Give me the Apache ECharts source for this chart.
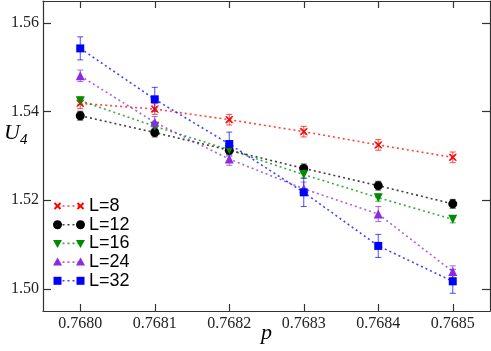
<!DOCTYPE html>
<html>
<head>
<meta charset="utf-8">
<script src="https://cdn.jsdelivr.net/npm/echarts@6/dist/echarts.min.js"></script>
<style>
  html, body { margin: 0; padding: 0; background: #fff; }
  #container { width: 491px; height: 351px; }
</style>
</head>
<body>
<div id="container"></div>
<script>
var dom = document.getElementById("container");
var myChart = echarts.init(dom, null, { renderer: "canvas" });

// data
const pValues = [0.768, 0.7681, 0.7682, 0.7683, 0.7684, 0.7685];
const xTicks = [0.768, 0.7681, 0.7682, 0.7683, 0.7684, 0.7685];
const yTicks = [1.5, 1.52, 1.54, 1.56];
const seriesNames = ["L=8", "L=12", "L=16", "L=24", "L=32"];
const u4_L8 = [1.5419, 1.5406, 1.5382, 1.5355, 1.5325, 1.5297];
const u4_L12 = [1.5391, 1.5353, 1.5313, 1.5272, 1.5233, 1.5192];
const u4_L16 = [1.5425, 1.5367, 1.5314, 1.5258, 1.5206, 1.5157];
const u4_L24 = [1.5481, 1.5376, 1.5293, 1.5226, 1.5169, 1.5039];
const u4_L32 = [1.5543, 1.5428, 1.5327, 1.5218, 1.5097, 1.5017];
const err_L8 = [0.0012, 0.0012, 0.0012, 0.0012, 0.0012, 0.0012];
const err_L12 = [0.001, 0.001, 0.001, 0.001, 0.001, 0.001];
const err_L16 = [0.0008, 0.0008, 0.0008, 0.0008, 0.0008, 0.0008];
const err_L24 = [0.0013, 0.0013, 0.0014, 0.0015, 0.0017, 0.0013];
const err_L32 = [0.0026, 0.0027, 0.0027, 0.0032, 0.0026, 0.0027];

const allValues = [u4_L8, u4_L12, u4_L16, u4_L24, u4_L32];
const allErrors = [err_L8, err_L12, err_L16, err_L24, err_L32];
const colors = ["#ff0000", "#000000", "#008b00", "#8a2be2", "#0000ff"];
const crossPath = "path://M0,0L10,10M10,0L0,10M1,0L10,9M0,1L9,10M9,0L0,9M10,1L1,10";
const symbols = [crossPath, "circle", "triangle", "triangle", "rect"];
const symbolSizes = [7, 9, 9, 9, 8];
const symbolRotates = [0, 0, 180, 0, 0];

const serifFont = "'Liberation Serif', 'DejaVu Serif', serif";
const sansFont = "'Liberation Sans', Arial, sans-serif";

const series = [];
seriesNames.forEach(function (name, i) {
  // error bars
  series.push({
    type: "custom",
    name: name + " err",
    z: 2,
    silent: true,
    data: pValues.map(function (p, k) {
      return [p, allValues[i][k] - allErrors[i][k], allValues[i][k] + allErrors[i][k]];
    }),
    renderItem: function (params, api) {
      const lo = api.coord([api.value(0), api.value(1)]);
      const hi = api.coord([api.value(0), api.value(2)]);
      const w = 3;
      const st = { stroke: colors[i], lineWidth: 1, opacity: 0.7 };
      return {
        type: "group",
        children: [
          { type: "line", shape: { x1: lo[0], y1: lo[1], x2: hi[0], y2: hi[1] }, style: st },
          { type: "line", shape: { x1: lo[0] - w, y1: lo[1], x2: lo[0] + w, y2: lo[1] }, style: st },
          { type: "line", shape: { x1: hi[0] - w, y1: hi[1], x2: hi[0] + w, y2: hi[1] }, style: st },
        ],
      };
    },
  });
  series.push({
    type: "line",
    name: name,
    z: 3,
    data: pValues.map(function (p, k) { return [p, allValues[i][k]]; }),
    symbol: symbols[i],
    symbolSize: symbolSizes[i],
    symbolRotate: symbolRotates[i],
    showAllSymbol: true,
    itemStyle: { color: colors[i], borderColor: colors[i], borderWidth: i === 0 ? 1 : 0 },
    lineStyle: { color: colors[i], type: [2, 3], width: 1.6, opacity: 0.75 },
    emphasis: { disabled: true },
    animation: false,
  });
});

// legend built by hand: marker, dotted line, marker, label
const legendElements = [];
const legendX1 = 57.5, legendX2 = 80.5, legendTextX = 89, legendTop = 206, legendStep = 18.7;
seriesNames.forEach(function (name, i) {
  const y = legendTop + i * legendStep;
  legendElements.push({
    type: "line",
    shape: { x1: legendX1, y1: y, x2: legendX2, y2: y },
    style: { stroke: colors[i], lineWidth: 1.6, lineDash: [2, 3], opacity: 0.75 },
  });
  [legendX1, legendX2].forEach(function (x) {
    let el;
    const c = colors[i];
    if (i === 0) {
      el = { type: "group", children: [
        { type: "line", shape: { x1: x - 3, y1: y - 3, x2: x + 3, y2: y + 3 }, style: { stroke: c, lineWidth: 2 } },
        { type: "line", shape: { x1: x - 3, y1: y + 3, x2: x + 3, y2: y - 3 }, style: { stroke: c, lineWidth: 2 } },
      ] };
    } else if (i === 1) {
      el = { type: "circle", shape: { cx: x, cy: y, r: 4.5 }, style: { fill: c } };
    } else if (i === 2) {
      el = { type: "polygon", shape: { points: [[x - 4.5, y - 3.5], [x + 4.5, y - 3.5], [x, y + 4.5]] }, style: { fill: c } };
    } else if (i === 3) {
      el = { type: "polygon", shape: { points: [[x - 4.5, y + 3.5], [x + 4.5, y + 3.5], [x, y - 4.5]] }, style: { fill: c } };
    } else {
      el = { type: "rect", shape: { x: x - 4, y: y - 4, width: 8, height: 8 }, style: { fill: c } };
    }
    legendElements.push(el);
  });
  legendElements.push({
    type: "text",
    x: legendTextX,
    y: y,
    style: { text: name, fill: "#000", font: "18px " + sansFont, verticalAlign: "middle" },
  });
});

// y axis title U_4
legendElements.push({
  type: "text",
  x: 4,
  y: 133,
  style: {
    text: "{u|U}{s|4}",
    verticalAlign: "middle",
    rich: {
      u: { fontFamily: serifFont, fontStyle: "italic", fontSize: 22, fill: "#000" },
      s: { fontFamily: serifFont, fontStyle: "italic", fontSize: 15, fill: "#000", padding: [14, 0, 0, 0] },
    },
  },
});

const axisLineStyle = { color: "#333", width: 1.2 };
const tickStyle = { color: "#333", width: 1.2 };

option = {
  backgroundColor: "#fff",
  animation: false,
  grid: { left: 43, right: 1, top: 1, bottom: 40, containLabel: false, outerBoundsMode: "none" },
  xAxis: [
    {
      type: "value",
      min: 0.76795,
      max: 0.76855,
      position: "bottom",
      splitLine: { show: false },
      axisLine: { lineStyle: axisLineStyle },
      axisTick: { inside: true, length: 7, customValues: xTicks, lineStyle: tickStyle },
      axisLabel: {
        customValues: xTicks,
        margin: 5,
        color: "#222",
        fontFamily: serifFont,
        fontSize: 16,
        formatter: function (v) { return v.toFixed(4); },
      },
      name: "p",
      nameLocation: "middle",
      nameGap: 11,
      nameMoveOverlap: false,
      nameTextStyle: { fontFamily: serifFont, fontStyle: "italic", fontSize: 22, color: "#000" },
    },
    {
      type: "value",
      min: 0.76795,
      max: 0.76855,
      position: "top",
      splitLine: { show: false },
      axisLine: { show: true, lineStyle: axisLineStyle },
      axisTick: { show: true, inside: true, length: 7, customValues: xTicks, lineStyle: tickStyle },
      axisLabel: { show: true, customValues: xTicks, color: "rgba(0,0,0,0)", formatter: function () { return ""; } },
    },
  ],
  yAxis: [
    {
      type: "value",
      min: 1.495,
      max: 1.565,
      position: "left",
      splitLine: { show: false },
      axisLine: { show: true, lineStyle: axisLineStyle },
      axisTick: { show: true, inside: true, length: 8, customValues: yTicks, lineStyle: tickStyle },
      axisLabel: {
        customValues: yTicks,
        margin: 4,
        color: "#222",
        fontFamily: serifFont,
        fontSize: 16,
        formatter: function (v) { return v.toFixed(2); },
      },
    },
    {
      type: "value",
      min: 1.495,
      max: 1.565,
      position: "right",
      splitLine: { show: false },
      axisLine: { show: true, lineStyle: axisLineStyle },
      axisTick: { show: true, inside: true, length: 8, customValues: yTicks, lineStyle: tickStyle },
      axisLabel: { show: true, customValues: yTicks, color: "rgba(0,0,0,0)", formatter: function () { return ""; } },
    },
  ],
  series: series,
  graphic: { elements: legendElements },
};

myChart.setOption(option);
window.addEventListener("resize", myChart.resize);
</script>
</body>
</html>
